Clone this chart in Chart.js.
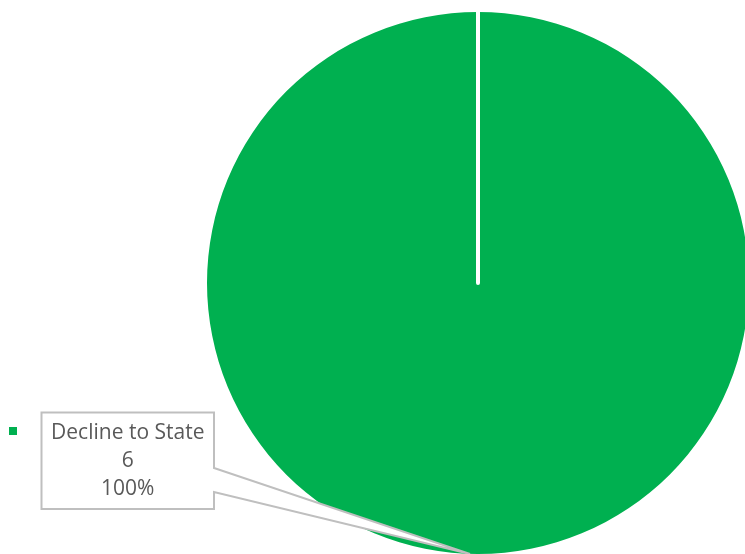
<!DOCTYPE html>
<html>
<head>
<meta charset="utf-8">
<script src="https://cdn.jsdelivr.net/npm/chart.js@4"></script>
<style>
    html, body { margin: 0; padding: 0; background: #fff; overflow: hidden; }
    #wrap { width: 745px; height: 554px; overflow: hidden; }
</style>
</head>
<body>
<div id="wrap"><canvas id="pieChart" width="749" height="554"></canvas></div>
<script>
const categories = ['Decline to State'];
const counts = [6];
const sliceColors = ['#00B050'];

// Excel-style callout + radial separator + legend marker
const calloutPlugin = {
    id: 'callout',
    afterDatasetsDraw(chart) {
        const ctx = chart.ctx;
        const meta = chart.getDatasetMeta(0);
        const arc = meta.data[0];
        const total = counts.reduce((a, b) => a + b, 0);

        // white separator line where the slice starts
        ctx.save();
        ctx.strokeStyle = '#ffffff';
        ctx.lineWidth = 4;
        ctx.lineCap = 'round';
        ctx.beginPath();
        ctx.moveTo(arc.x, arc.y);
        ctx.lineTo(arc.x + Math.cos(arc.startAngle) * (arc.outerRadius + 2),
                   arc.y + Math.sin(arc.startAngle) * (arc.outerRadius + 2));
        ctx.stroke();
        ctx.restore();

        // callout box with pointer
        const mid = (arc.startAngle + arc.endAngle) / 2;
        const tipX = arc.x + Math.cos(mid) * arc.outerRadius - 8;
        const tipY = arc.y + Math.sin(mid) * arc.outerRadius;
        const bx = 41.5, by = 412.5, bw = 172.5, bh = 96.5;
        ctx.save();
        ctx.beginPath();
        ctx.moveTo(bx, by);
        ctx.lineTo(bx + bw, by);
        ctx.lineTo(bx + bw, 468);
        ctx.lineTo(tipX, tipY);
        ctx.lineTo(bx + bw, 492);
        ctx.lineTo(bx + bw, by + bh);
        ctx.lineTo(bx, by + bh);
        ctx.closePath();
        ctx.fillStyle = '#ffffff';
        ctx.fill();
        ctx.strokeStyle = '#bfbfbf';
        ctx.lineWidth = 2;
        ctx.stroke();

        ctx.fillStyle = '#595959';
        ctx.font = '21px "Open Sans", sans-serif';
        ctx.textAlign = 'center';
        ctx.textBaseline = 'middle';
        const cx = bx + bw / 2;
        ctx.fillText(categories[0], cx, 433);
        ctx.fillText(String(counts[0]), cx, 461);
        ctx.fillText(Math.round(counts[0] / total * 100) + '%', cx, 489);

        // legend marker
        ctx.fillStyle = sliceColors[0];
        ctx.fillRect(9, 427, 8, 8);
        ctx.restore();
    }
};

new Chart(document.getElementById('pieChart'), {
    type: 'pie',
    data: {
        labels: categories,
        datasets: [{
            data: counts,
            backgroundColor: sliceColors,
            borderWidth: 0,
            hoverOffset: 0
        }]
    },
    options: {
        responsive: false,
        animation: false,
        layout: {
            padding: { left: 207, top: 12, right: 0, bottom: 0 }
        },
        plugins: {
            legend: { display: false },
            tooltip: { enabled: false }
        }
    },
    plugins: [calloutPlugin]
});
</script>
</body>
</html>
